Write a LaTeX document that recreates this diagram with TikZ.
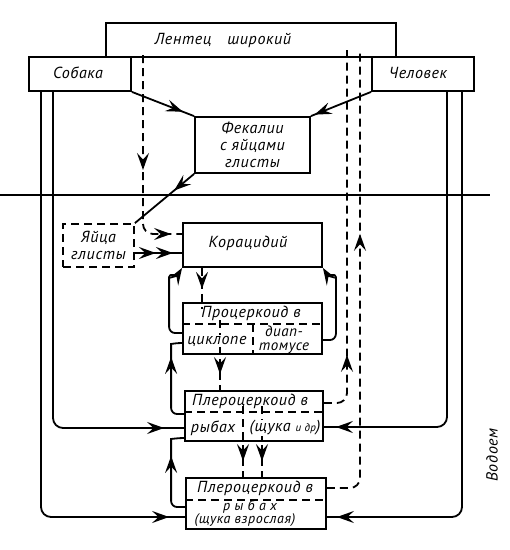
\documentclass[tikz,border=0pt]{standalone}
\usepackage{fontspec}
\newfontfamily\dfont{PT Sans}[LetterSpace=4]
\usetikzlibrary{arrows.meta,decorations.markings}
\begin{document}
\begin{tikzpicture}[x=1pt,y=-1pt,
  ln/.style={line width=1.8pt},
  dsh/.style={line width=1.8pt, dash pattern=on 8pt off 5pt},
  box/.style={draw, line width=1.8pt, inner sep=0pt, font=\dfont\itshape\fontsize{16}{17}\selectfont, align=center},
  dbox/.style={box, dash pattern=on 8pt off 5pt},
  lbl/.style={font=\dfont\itshape\fontsize{16}{17}\selectfont, inner sep=0pt, align=center},
  wlbl/.style={lbl, fill=white, inner sep=1pt},
  slbl/.style={font=\dfont\itshape\fontsize{14}{13}\selectfont, inner sep=0pt, align=center},
  mlbl/.style={font=\dfont\itshape\fontsize{15}{14}\selectfont, inner sep=0pt, align=center},
  >={Stealth[length=17pt,width=12pt,inset=6.5pt]},
  tipat/.style={postaction={decorate}, decoration={markings, mark=at position #1 with {\arrow{>}}}},
  tiptwo/.style 2 args={postaction={decorate}, decoration={markings, mark=at position #1 with {\arrow{>}}, mark=at position #2 with {\arrow{>}}}},
]
\useasboundingbox (0,0) rectangle (510,550);
\fill[white] (0,0) rectangle (510,550);

% boxes
\node[box, minimum width=290pt, minimum height=34pt] (lent) at (251,40) {};
\node[lbl] (lentt) at (223,40) {Лентец\hspace{16pt}широкий};
\node[box, minimum width=102pt, minimum height=34pt] (sob) at (80,74) {};
\node[lbl] (sobt) at (78,73) {Собака};
\node[box, minimum width=102pt, minimum height=34pt] (chel) at (423,74) {};
\node[lbl] (chelt) at (418,73) {Человек};
\node[box, minimum width=115pt, minimum height=56pt] (fek) at (252.5,145) {Фекалии\\с яйцами\\глисты};
\node[dbox, minimum width=71pt, minimum height=43pt] (yaic) at (98.5,245.5) {Яйца\\глисты};
\node[box, minimum width=139pt, minimum height=44pt] (kor) at (252.5,245) {};
\node[lbl] (kort) at (248,243) {Корацидий};
\node[box, minimum width=139pt, minimum height=51pt] (proc) at (252.5,328.5) {};
\node[box, minimum width=138pt, minimum height=50pt] (pl1) at (254,416) {};
\node[box, minimum width=140pt, minimum height=51pt] (pl2) at (256,503.5) {};

% inner lines
\draw[dsh] (proc.west |- 0,324) -- (proc.east |- 0,324);
\draw[dsh] (253,324) -- (proc.south -| 253,0);
\draw[dsh] (pl1.west |- 0,412) -- (pl1.east |- 0,412);
\draw[dsh] (pl2.west |- 0,500) -- (pl2.east |- 0,500);

% water surface
\draw[ln] (0,195) -- (490,195);

% solid connectors
\draw[ln, tipat=-12pt] (sob.south east) -- (fek.north west);
\draw[ln, tipat=-4pt] (chel.south west) -- (fek.north east);
\draw[ln, tipat=26pt] (fek.south west) -- (yaic.north east);
\draw[ln, tiptwo={21pt}{38pt}] ([yshift=-7.5pt]yaic.east) -- ([yshift=-7.5pt]yaic.east -| kor.west);

\draw[ln, ->, rounded corners=6pt] ([yshift=-4.5pt]proc.west) -- ++(-13,0) -- ++(0,-50)
  .. controls +(0,-10) and +(-5,8) .. (kor.south west);
\draw[ln, ->, rounded corners=6pt] ([yshift=-11.5pt]proc.east) -- ++(13,0) -- ++(0,-57)
  .. controls +(0,-10) and +(5,8) .. (kor.south east);
\draw[ln, tipat=-24pt, rounded corners=6pt] ([yshift=2pt]pl1.west) -- ++(-13,0) -- ++(0,-64)
  .. controls +(0,-6) and +(-6,0) .. ([yshift=-14.5pt]proc.west);
\draw[ln, tipat=-30pt, rounded corners=6pt] ([yshift=-3.5pt]pl2.west) -- ++(-14,0) -- ++(0,-62)
  .. controls +(0,-6) and +(-6,0) .. ([yshift=-22pt]pl1.west);

\draw[ln, tipat=-20pt, rounded corners=10pt] ([xshift=-27pt]sob.south) |- ([yshift=-12pt]pl1.west);
\draw[ln, tipat=-16pt, rounded corners=10pt] ([xshift=-39pt]sob.south) |- ([yshift=-13.5pt]pl2.west);
\draw[ln, tipat=-12pt, rounded corners=10pt] ([xshift=24pt]chel.south) |- ([yshift=-11pt]pl1.east);
\draw[ln, tipat=-10pt, rounded corners=10pt] ([xshift=39pt]chel.south) |- ([yshift=-13.5pt]pl2.east);

% dashed connectors
\coordinate (d1) at (143,55);
\coordinate (d2) at (347,50);
\coordinate (d3) at (360,50);
\draw[dsh, rounded corners=10pt, tiptwo={115pt}{-11pt}] (d1) |- ([yshift=11pt]kor.west);
\draw[dsh, tipat=21pt] ([xshift=-50.5pt]kor.south) -- ([xshift=-50.5pt,yshift=-7pt]proc.north);
\draw[dsh, tipat=-16pt] ([xshift=-32.5pt,yshift=-18pt]proc.north) -- ([xshift=-34pt]pl1.north);
\draw[dsh, tipat=-16pt] ([xshift=-11pt,yshift=-16pt]pl1.north) -- ([xshift=-13pt]pl2.north);
\draw[dsh, tipat=-16pt] ([xshift=8pt,yshift=-16pt]pl1.north) -- ([xshift=6pt]pl2.north);
\draw[dsh, rounded corners=10pt, tipat=67pt] ([yshift=13pt]pl1.east) -| (d2);
\draw[dsh, rounded corners=10pt, tipat=283pt] ([yshift=15.5pt]pl2.east) -| (d3);

% texts in divided boxes (over the lines that pass behind them)
\node[lbl] (proct) at (251,313) {Процеркоид в};
\node[wlbl] (procc) at (217,341) {циклопе};
\node[mlbl] (procd) at (284,340) {диап-\\томусе};
\node[lbl] (pl1t) at (250,401) {Плероцеркоид в};
\node[wlbl] (pl1r) at (213,428) {рыбах};
\node[wlbl] (pl1s) at (285,428) {(щука {\fontsize{11}{11}\selectfont и др})};
\node[lbl] (pl2t) at (255,488) {Плероцеркоид в};
\node[slbl] (pl2r) at (250,507) {р ы б а х};
\node[slbl] (pl2s) at (245,520) {(щука взрослая)};
\node[lbl, rotate=90] (vod) at (492,455) {Водоем};
\end{tikzpicture}
\end{document}
